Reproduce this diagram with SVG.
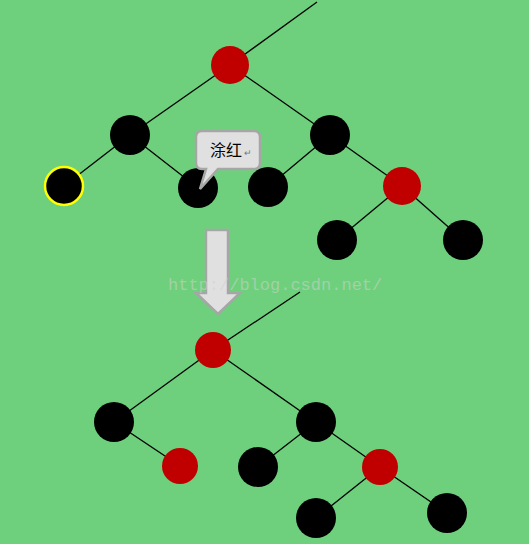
<svg xmlns="http://www.w3.org/2000/svg" width="529" height="544" viewBox="0 0 529 544">
<style>
.e{stroke:#000;stroke-width:1.3;fill:none}
.b{fill:#000}
.r{fill:#C00000}
</style>
<rect width="529" height="544" fill="#6ED07C"/>
<g id="connectors">
<line class="e" x1="317" y1="2" x2="230" y2="65"/>
<line class="e" x1="230" y1="65" x2="130" y2="135"/>
<line class="e" x1="230" y1="65" x2="330" y2="135"/>
<line class="e" x1="130" y1="135" x2="64" y2="186"/>
<line class="e" x1="130" y1="135" x2="198" y2="188"/>
<line class="e" x1="330" y1="135" x2="268" y2="187"/>
<line class="e" x1="330" y1="135" x2="402" y2="186"/>
<line class="e" x1="402" y1="186" x2="337" y2="240"/>
<line class="e" x1="402" y1="186" x2="463" y2="240"/>
<line class="e" x1="300" y1="292" x2="213" y2="350"/>
<line class="e" x1="213" y1="350" x2="114" y2="422"/>
<line class="e" x1="213" y1="350" x2="316" y2="422"/>
<line class="e" x1="114" y1="422" x2="180" y2="466"/>
<line class="e" x1="316" y1="422" x2="258" y2="467"/>
<line class="e" x1="316" y1="422" x2="380" y2="467"/>
<line class="e" x1="380" y1="467" x2="316" y2="518"/>
<line class="e" x1="380" y1="467" x2="447" y2="513"/>
</g>
<g id="t1"><circle class="r" cx="230" cy="65" r="19"/></g>
<g id="t2"><circle class="b" cx="130" cy="135" r="20"/></g>
<g id="t3"><circle class="b" cx="330" cy="135" r="20"/></g>
<g id="t4"><circle class="b" cx="64" cy="186" r="19" stroke="#FFFF00" stroke-width="2.5"/></g>
<g id="t5"><circle class="b" cx="198" cy="188" r="20"/></g>
<g id="t6"><circle class="b" cx="268" cy="187" r="20"/></g>
<g id="t7"><circle class="r" cx="402" cy="186" r="19"/></g>
<g id="t8"><circle class="b" cx="337" cy="240" r="20"/></g>
<g id="t9"><circle class="b" cx="463" cy="240" r="20"/></g>
<g id="callout">
<path d="M202,131 H254 Q260,131 260,137 V163 Q260,169 254,169 H218 L200,189 L206,169 H202 Q196,169 196,163 V137 Q196,131 202,131 Z" fill="#E0E0E0" stroke="#A6A6A6" stroke-width="2.5"/>
<text x="210" y="156" font-family="Noto Sans CJK SC, sans-serif" font-size="16" fill="#000">涂红</text>
<text x="244" y="156" font-family="Liberation Sans, sans-serif" font-size="9" fill="#777">↵</text>
</g>
<g id="arrow">
<path d="M206,230 H228 V293 H240 L218,314 L196,293 H206 Z" fill="#E0E0E0" stroke="#A6A6A6" stroke-width="2.5"/>
</g>
<text x="168" y="290" font-family="Liberation Mono, monospace" font-size="17" fill="#D0D0D0" fill-opacity="0.55">http://blog.csdn.net/</text>
<g id="b1"><circle class="r" cx="213" cy="350" r="18"/></g>
<g id="b2"><circle class="b" cx="114" cy="422" r="20"/></g>
<g id="b3"><circle class="b" cx="316" cy="422" r="20"/></g>
<g id="b4"><circle class="r" cx="180" cy="466" r="18"/></g>
<g id="b5"><circle class="b" cx="258" cy="467" r="20"/></g>
<g id="b6"><circle class="r" cx="380" cy="467" r="18"/></g>
<g id="b7"><circle class="b" cx="316" cy="518" r="20"/></g>
<g id="b8"><circle class="b" cx="447" cy="513" r="20"/></g>
</svg>
